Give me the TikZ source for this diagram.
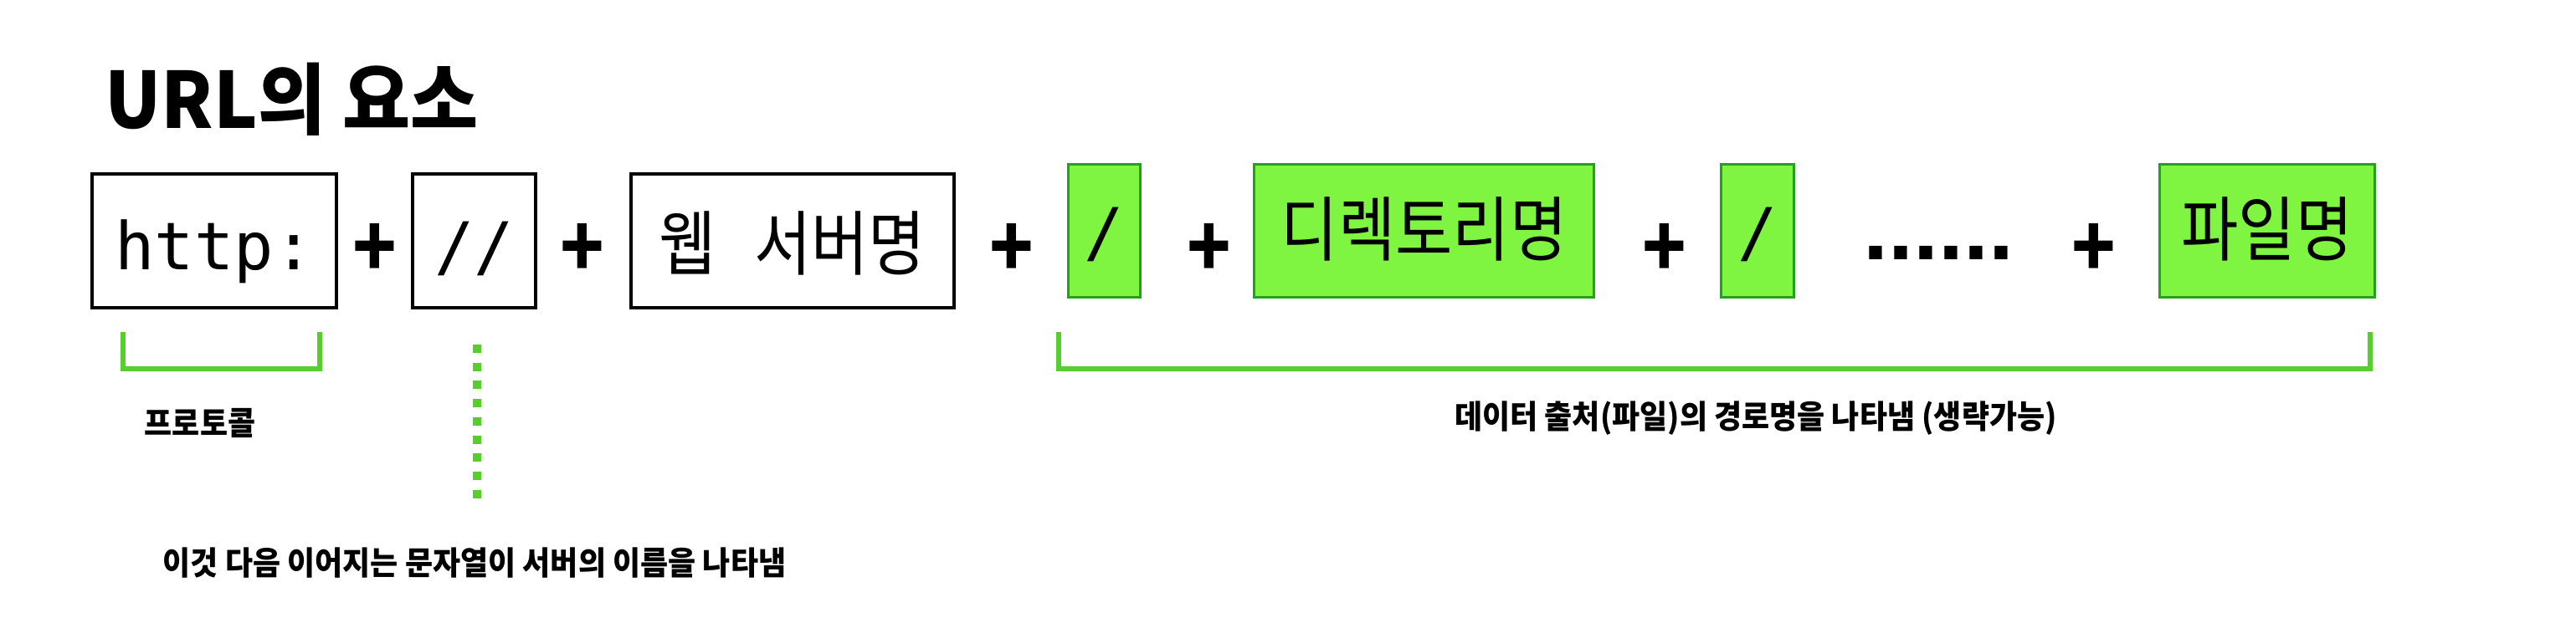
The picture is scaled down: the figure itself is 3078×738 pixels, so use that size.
\documentclass[tikz,border=0pt]{standalone}
\usepackage{fontspec}
\setmainfont{Noto Sans CJK KR}[FakeStretch=0.88]
\newfontfamily\codefont{DejaVu Sans Mono}
\newfontfamily\titlefont{Noto Sans CJK KR}[FakeStretch=0.95]
\newfontfamily\notefont{Noto Sans CJK KR}[FakeStretch=0.93]
\newfontfamily\dotfont{Liberation Sans}
\definecolor{fillgreen}{HTML}{7FF542}
\definecolor{edgegreen}{HTML}{22A01E}
\definecolor{markgreen}{HTML}{57CD2E}

\begin{document}
\begin{tikzpicture}[x=0.01cm, y=-0.01cm,
    blackbox/.style={draw=black, line width=0.04cm, inner sep=0pt, minimum height=1.6cm, text height=0.68cm, text depth=0pt},
    greenbox/.style={draw=edgegreen, fill=fillgreen, line width=0.03cm, inner sep=0pt, minimum height=1.58cm, text height=0.58cm, text depth=0pt},
    codetext/.style={font=\codefont\fontsize{22.4pt}{25pt}\selectfont},
    boxtext/.style={font=\fontsize{24pt}{27pt}\selectfont},
    plussign/.style={font=\bfseries\fontsize{28pt}{30pt}\selectfont, inner sep=0pt},
    note/.style={font=\notefont\bfseries\fontsize{11pt}{13pt}\selectfont, inner sep=0pt},
    bracket/.style={draw=markgreen, line width=0.065cm}]
  \useasboundingbox (0,0) rectangle (3078,738);
  \node[anchor=base west, inner sep=0pt, font=\titlefont\bfseries\fontsize{26.4pt}{30pt}\selectfont] (title) at (125,153) {URL의 요소};

  % boxes of the url
  \node[blackbox, codetext, minimum width=2.92cm] (scheme) at (256,288) {http:};
  \node[blackbox, codetext, minimum width=1.47cm] (slashes) at (566.5,288) {//};
  \node[blackbox, boxtext, minimum width=3.86cm] (server) at (947,288) {웹\hspace{0.45cm}서버명};
  \node[greenbox, codetext, minimum width=0.85cm] (sepa) at (1319.5,276) {/};
  \node[greenbox, boxtext, minimum width=4.05cm] (folder) at (1701.5,276) {디렉토리명};
  \node[greenbox, codetext, minimum width=0.86cm] (sepb) at (2100,276) {/};
  \node[greenbox, boxtext, minimum width=2.56cm] (file) at (2709,276) {파일명};

  % plus signs
  \node[plussign] (p1) at (448,299) {+};
  \node[plussign] (p2) at (696,299) {+};
  \node[plussign] (p3) at (1209,299) {+};
  \node[plussign] (p4) at (1445,299) {+};
  \node[plussign] (p5) at (1989,299) {+};
  \node[plussign] (p6) at (2502,299) {+};
  \node[inner sep=0pt, font=\dotfont\bfseries\fontsize{30.7pt}{32pt}\selectfont] (more) at (2316,302) {......};

  % brackets and notes
  \draw[bracket] (147,397) |- (382,441) -- (382,397);
  \draw[bracket] (1265,397) |- (2832,441) -- (2832,397);
  \draw[markgreen, line width=0.1cm, dash pattern=on 0.1cm off 0.117cm] (570,412) -- (570,603);
  \node[note] (proto) at (239,506) {프로토콜};
  \node[note] (hostnote) at (567,673) {이것 다음 이어지는 문자열이 서버의 이름을 나타냄};
  \node[note] (pathnote) at (2098,500) {데이터 출처(파일)의 경로명을 나타냄 (생략가능)};
\end{tikzpicture}
\end{document}
